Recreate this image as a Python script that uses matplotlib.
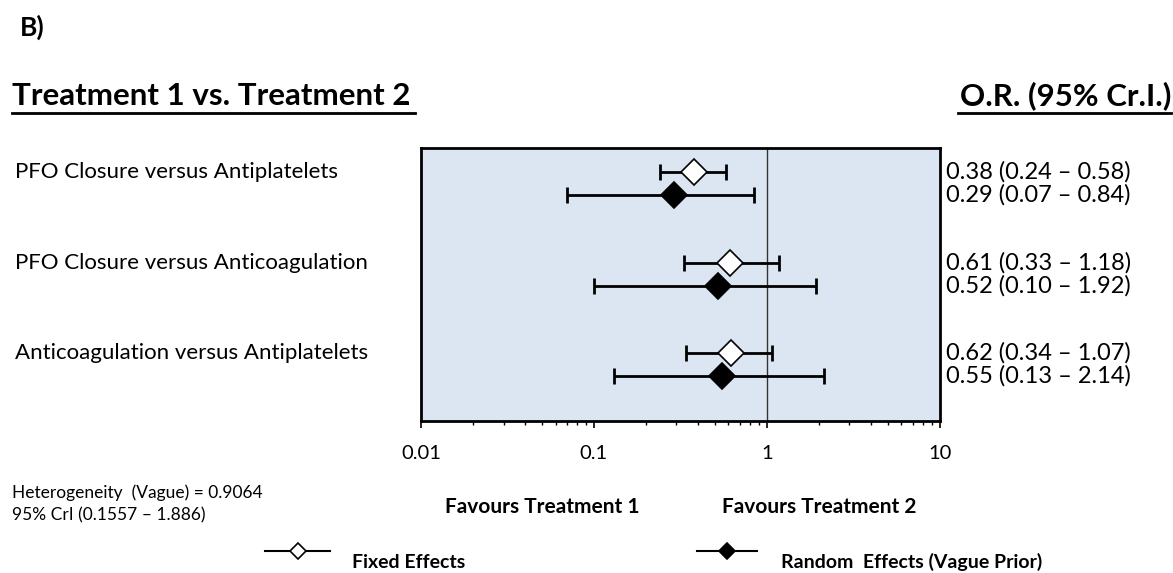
import numpy as np
import matplotlib
matplotlib.use("Agg")
import matplotlib.pyplot as plt
from matplotlib.lines import Line2D
from matplotlib.ticker import LogLocator, NullFormatter, FixedLocator, FixedFormatter

# donnees
comparaisons = ["PFO Closure versus Antiplatelets",
                "PFO Closure versus Anticoagulation",
                "Anticoagulation versus Antiplatelets"]
fixe_or = [0.38, 0.61, 0.62]
fixe_bas = [0.24, 0.33, 0.34]
fixe_haut = [0.58, 1.18, 1.07]
alea_or = [0.29, 0.52, 0.55]
alea_bas = [0.07, 0.10, 0.13]
alea_haut = [0.84, 1.92, 2.14]
graduations = [0.01, 0.1, 1, 10]
etiquettes = ["0.01", "0.1", "1", "10"]

plt.rcParams['font.family'] = ['Lato', 'DejaVu Sans']

fig = plt.figure(figsize=(11.73, 5.73), dpi=100)
ax = fig.add_axes([0.359, 0.265, 0.442, 0.477])
ax.set_facecolor("#dce6f2")

y = np.arange(len(comparaisons))
decal = 0.254

def barres(ax, yy, centre, bas, haut, face):
    centre = np.array(centre)
    err = [centre - np.array(bas), np.array(haut) - centre]
    ax.errorbar(centre, yy, xerr=err, fmt="none", ecolor="black",
                elinewidth=2, capsize=6, capthick=2, zorder=3)
    ax.plot(centre, yy, linestyle="none", marker="D", markersize=13,
            markerfacecolor=face, markeredgecolor="black",
            markeredgewidth=1.2, zorder=4)

barres(ax, y, fixe_or, fixe_bas, fixe_haut, "white")
barres(ax, y + decal, alea_or, alea_bas, alea_haut, "black")

ax.axvline(1, color="#333333", linewidth=1, zorder=2)

ax.set_xscale("log")
ax.set_xlim(0.01, 10)
ax.set_ylim(2.75, -0.265)
ax.set_yticks([])
ax.xaxis.set_major_locator(FixedLocator(graduations))
ax.xaxis.set_major_formatter(FixedFormatter(etiquettes))
ax.xaxis.set_minor_locator(LogLocator(base=10, subs=np.arange(2, 10)))
ax.xaxis.set_minor_formatter(NullFormatter())
ax.tick_params(axis="x", which="major", direction="out", length=5, width=1.2,
               labelsize=14.5, pad=12)
ax.tick_params(axis="x", which="minor", direction="out", length=3, width=1)
for s in ax.spines.values():
    s.set_linewidth(2)

# libelles a gauche et valeurs a droite
for i, nom in enumerate(comparaisons):
    ax.annotate(nom, xy=(0, y[i]), xycoords=("figure fraction", "data"),
                xytext=(15, 0), textcoords="offset pixels",
                fontsize=16, va="center", ha="left")
    ax.annotate(f"{fixe_or[i]:.2f} ({fixe_bas[i]:.2f} \u2013 {fixe_haut[i]:.2f})",
                xy=(946 / 1173, y[i]), xycoords=("figure fraction", "data"),
                fontsize=17, va="center", ha="left")
    ax.annotate(f"{alea_or[i]:.2f} ({alea_bas[i]:.2f} \u2013 {alea_haut[i]:.2f})",
                xy=(946 / 1173, y[i] + decal), xycoords=("figure fraction", "data"),
                fontsize=17, va="center", ha="left")

W, H = 1173, 573
def fx(px):
    return px / W
def fy(py):
    return 1 - py / H

fig.text(fx(20), fy(27), "B)", fontsize=19, fontweight="bold", va="center")
fig.text(fx(12), fy(96), "Treatment 1 vs. Treatment 2", fontsize=22.5,
         fontweight="bold", va="center")
fig.add_artist(Line2D([fx(12), fx(415)], [fy(113), fy(113)], color="black", linewidth=2))
fig.text(fx(1171), fy(96), "O.R. (95% Cr.I.)", fontsize=22.5,
         fontweight="bold", va="center", ha="right")
fig.add_artist(Line2D([fx(958), fx(1171)], [fy(113), fy(113)], color="black", linewidth=2))

fig.text(fx(12), fy(493), "Heterogeneity  (Vague) = 0.9064", fontsize=12.5, va="center")
fig.text(fx(12), fy(515), "95% CrI (0.1557 \u2013 1.886)", fontsize=12.5, va="center")

fig.text(fx(542), fy(507), "Favours Treatment 1", fontsize=15, fontweight="bold",
         va="center", ha="center")
fig.text(fx(819), fy(507), "Favours Treatment 2", fontsize=15, fontweight="bold",
         va="center", ha="center")

# legende dessinee a la main
for x0, x1, face, txt, tx in [(265, 330, "white", "Fixed Effects", 352),
                              (697, 757, "black", "Random  Effects (Vague Prior)", 781)]:
    fig.add_artist(Line2D([fx(x0), fx(x1)], [fy(551), fy(551)], color="black", linewidth=1.5))
    fig.add_artist(Line2D([fx((x0 + x1) / 2)], [fy(551)], marker="D", markersize=8,
                          markerfacecolor=face, markeredgecolor="black",
                          markeredgewidth=1.2, linestyle="none"))
    fig.text(fx(tx), fy(562), txt, fontsize=14, fontweight="bold", va="center")

fig.savefig("out.png", dpi=100)
